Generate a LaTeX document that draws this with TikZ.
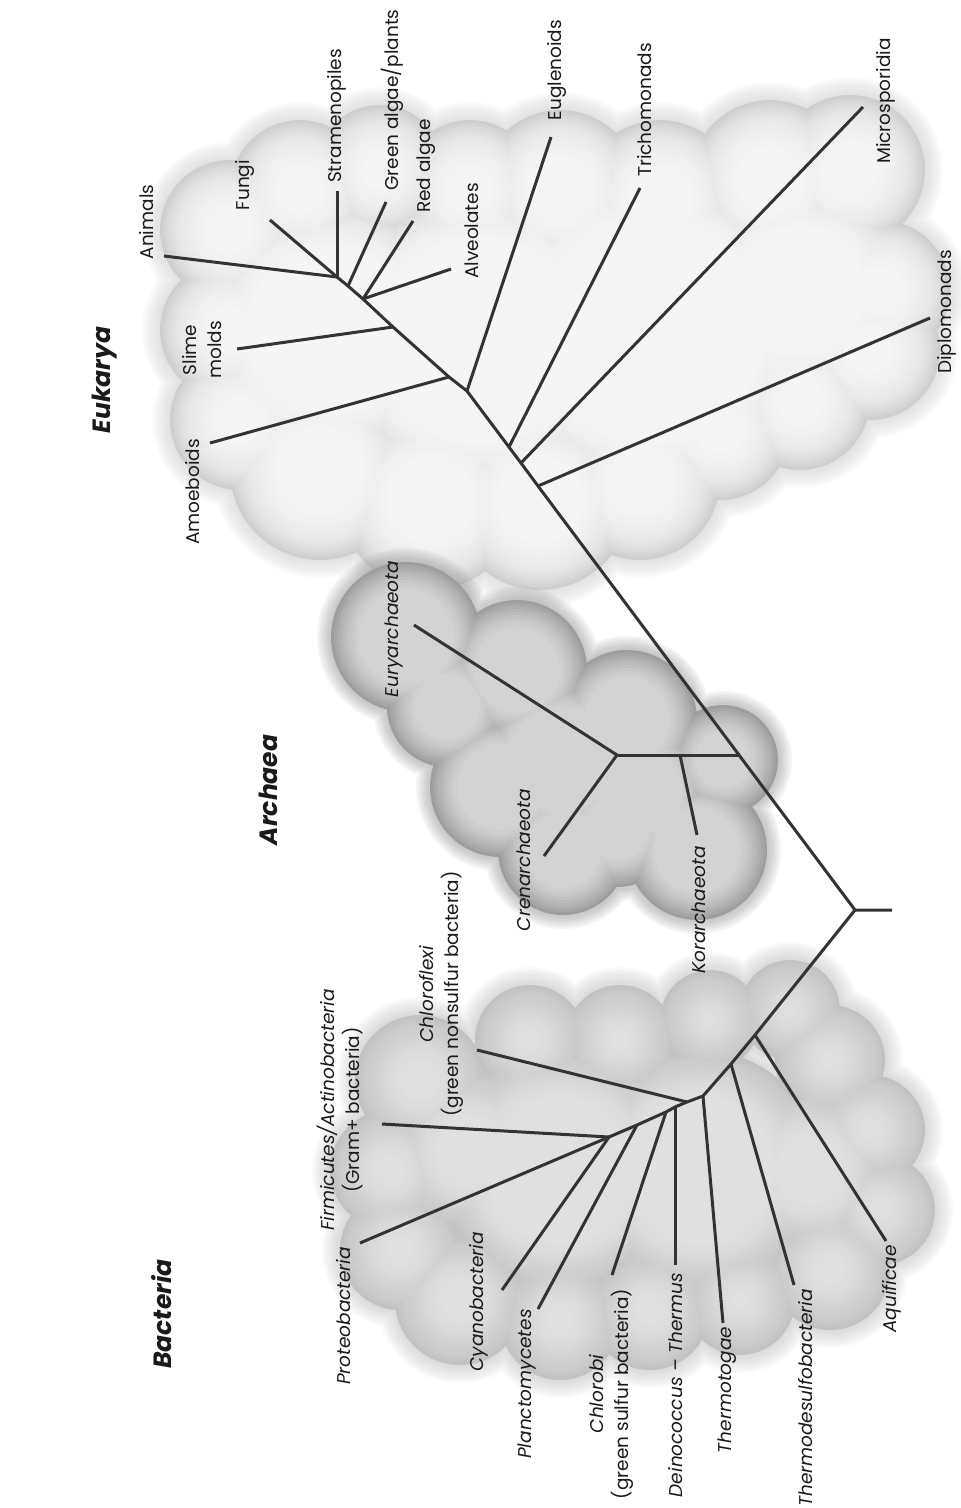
\documentclass[tikz,border=0pt]{standalone}
\usepackage{fontspec}
\setmainfont{Poppins}
\definecolor{linec}{HTML}{333333}
\definecolor{eukedge}{HTML}{CFCFCF}
\definecolor{bacedge}{HTML}{C2C2C2}
\definecolor{arcout}{HTML}{9E9E9E}
\definecolor{txt}{HTML}{1A1A1A}
\newcommand\cloudlayer[3]{\fill[#1] \foreach \x/\y/\r in #3 {(\x,\y) circle[radius={max(\r+#2,1)}]};}
\def\eukC{230/230/70, 300/190/70, 380/170/65, 470/190/70, 560/190/80, 660/200/80, 770/180/80, 850/170/75, 880/290/70, 870/350/70, 800/400/70, 720/430/70, 640/480/80, 540/500/90, 430/500/90, 320/470/90, 240/420/70, 230/330/70, 330/330/130, 480/340/150, 650/330/160, 800/290/110}
\def\bacC{420/1080/65, 390/1170/60, 400/1250/60, 460/1300/65, 560/1320/60, 650/1310/60, 740/1300/55, 830/1270/60, 880/1210/55, 870/1130/55, 830/1060/55, 790/1010/50, 710/1020/50, 620/1040/55, 530/1040/55, 560/1170/120, 700/1170/120, 810/1170/80, 470/1150/80}
\def\arcC{406/637/75, 447/707/60, 517/670/70, 627/720/70, 723/760/55, 500/787/70, 617/827/60, 563/850/65, 697/850/70, 560/760/80, 640/790/70}
\begin{document}
\begin{tikzpicture}[x=1pt,y=-1pt,
  br/.style={line width=3pt, draw=linec, line join=round},
  lab/.style={rotate=90, inner sep=0pt, text=txt, align=center, font=\fontsize{18.5}{25}\selectfont},
  ilab/.style={lab, font=\fontsize{18.5}{25}\selectfont\itshape},
  ttl/.style={rotate=90, inner sep=0pt, text=txt, font=\fontsize{25}{29}\selectfont\bfseries\itshape}]
\useasboundingbox (0,0) rectangle (961,1508);
\fill[white] (0,0) rectangle (961,1508);
% ---------- clouds
% Eukarya
\foreach \d in {18,16,...,2}{\cloudlayer{eukedge, opacity=0.08}{\d}{\eukC}}
\cloudlayer{eukedge}{0}{\eukC}
\foreach \d in {3,6,...,48}{\cloudlayer{white, opacity=0.12}{-\d}{\eukC}}
% Bacteria
\foreach \d in {18,16,...,2}{\cloudlayer{bacedge, opacity=0.08}{\d}{\bacC}}
\cloudlayer{bacedge}{0}{\bacC}
\foreach \d in {3,6,...,48}{\cloudlayer{white, opacity=0.055}{-\d}{\bacC}}
% Archaea
\foreach \d in {14,12,...,2}{\cloudlayer{arcout, opacity=0.1}{\d}{\arcC}}
\cloudlayer{arcout}{0}{\arcC}
\foreach \d in {3,6,...,27}{\cloudlayer{white, opacity=0.09}{-\d}{\arcC}}
% ---------- titles
\node[ttl] (tEuk) at (105,380) {Eukarya};
\node[ttl] (tArc) at (268,790) {Archaea};
\node[ttl] (tBac) at (162,1314) {Bacteria};
% ---------- Eukarya tree
\coordinate (nA) at (337,277);
\coordinate (nG) at (348,286);
\coordinate (nR) at (363,299);
\coordinate (nS) at (393,327);
\coordinate (nAm) at (449,377);
\coordinate (nE) at (467,391);
\coordinate (nT) at (509,447);
\coordinate (nM) at (521,463);
\coordinate (nD) at (538,486);
\coordinate (nArch) at (739,755);
\coordinate (root) at (855,910);
\coordinate (stub) at (892,910);
\coordinate (lAni) at (164,256);
\coordinate (lFun) at (270,220);
\coordinate (lStr) at (337,191);
\coordinate (lGre) at (386,202);
\coordinate (lRed) at (413,221);
\coordinate (lAlv) at (451,269);
\coordinate (lSli) at (237,349);
\coordinate (lAmo) at (210,443);
\coordinate (lEug) at (551,137);
\coordinate (lTri) at (640,188);
\coordinate (lMic) at (863,107);
\coordinate (lDip) at (930,318);
\draw[br] (nA) -- (nG) -- (nR) -- (nS) -- (nAm) -- (nE) -- (nT) -- (nM) -- (nD) -- (nArch) -- (root) -- (stub);
\draw[br] (nA) -- (lAni);
\draw[br] (nA) -- (lFun);
\draw[br] (nA) -- (lStr);
\draw[br] (nG) -- (lGre);
\draw[br] (nR) -- (lRed);
\draw[br] (nR) -- (lAlv);
\draw[br] (nS) -- (lSli);
\draw[br] (nAm) -- (lAmo);
\draw[br] (nE) -- (lEug);
\draw[br] (nT) -- (lTri);
\draw[br] (nM) -- (lMic);
\draw[br] (nD) -- (lDip);
\node[lab] (Ani) at (147,222) {Animals};
\node[lab] (Fun) at (245,185) {Fungi};
\node[lab] (Str) at (337,116) {Stramenopiles};
\node[lab] (Gre) at (392,100) {Green algae/plants};
\node[lab] (Red) at (426,166) {Red algae};
\node[lab] (Alv) at (472,231) {Alveolates};
\node[lab] (Sli) at (202,350) {Slime\\molds};
\node[lab] (Amo) at (193,492) {Amoeboids};
\node[lab] (Eug) at (557,70) {Euglenoids};
\node[lab] (Tri) at (645,110) {Trichomonads};
\node[lab] (Mic) at (886,101) {Microsporidia};
\node[lab] (Dip) at (947,312) {Diplomonads};
% ---------- Archaea tree
\coordinate (nEury) at (617,755);
\coordinate (nKor) at (680,755);
\coordinate (lEury) at (414,625);
\coordinate (lCren) at (544,856);
\coordinate (lKor) at (697,835);
\draw[br] (nArch) -- (nKor) -- (nEury);
\draw[br] (nEury) -- (lEury);
\draw[br] (nEury) -- (lCren);
\draw[br] (nKor) -- (lKor);
\node[ilab] (Eury) at (394,629) {Euryarchaeota};
\node[ilab] (Cren) at (524,860) {Crenarchaeota};
\node[ilab] (Kor) at (699,910) {Korarchaeota};
% ---------- Bacteria tree
\coordinate (nAq) at (755,1035);
\coordinate (nTd) at (731,1064);
\coordinate (nTt) at (703,1096);
\coordinate (nCf) at (687,1102);
\coordinate (nDe) at (675,1107);
\coordinate (nCb) at (666,1112);
\coordinate (nPl) at (637,1125);
\coordinate (nFi) at (609,1137);
\coordinate (lAq) at (886,1241);
\coordinate (lTd) at (794,1285);
\coordinate (lTt) at (723,1323);
\coordinate (lCf) at (477,1050);
\coordinate (lDe) at (675,1265);
\coordinate (lCb) at (612,1275);
\coordinate (lPl) at (538,1309);
\coordinate (lCy) at (502,1290);
\coordinate (lFi) at (382,1124);
\coordinate (lPr) at (360,1243);
\draw[br] (root) -- (nAq) -- (nTd) -- (nTt) -- (nCf) -- (nDe) -- (nCb) -- (nPl) -- (nFi);
\draw[br] (nAq) -- (lAq);
\draw[br] (nTd) -- (lTd);
\draw[br] (nTt) -- (lTt);
\draw[br] (nCf) -- (lCf);
\draw[br] (nDe) -- (lDe);
\draw[br] (nCb) -- (lCb);
\draw[br] (nPl) -- (lPl);
\draw[br] (nFi) -- (lCy);
\draw[br] (nFi) -- (lFi);
\draw[br] (nFi) -- (lPr);
\node[ilab] (Pro) at (344,1316) {Proteobacteria};
\node[lab] (Fir) at (340,1110) {\itshape Firmicutes/Actinobacteria\\(Gram+ bacteria)};
\node[lab] (Chf) at (441,994) {\itshape Chloroflexi\\(green nonsulfur bacteria)};
\node[ilab] (Cya) at (479,1302) {Cyanobacteria};
\node[ilab] (Pla) at (527,1384) {Planctomycetes};
\node[lab] (Chb) at (611,1394) {\itshape Chlorobi\\(green sulfur bacteria)};
\node[ilab] (Dei) at (676,1385) {Deinococcus -- Thermus};
\node[ilab] (Tto) at (727,1390) {Thermotogae};
\node[ilab] (Tds) at (806,1398) {Thermodesulfobacteria};
\node[ilab] (Aqu) at (892,1289) {Aquificae};
\end{tikzpicture}
\end{document}
